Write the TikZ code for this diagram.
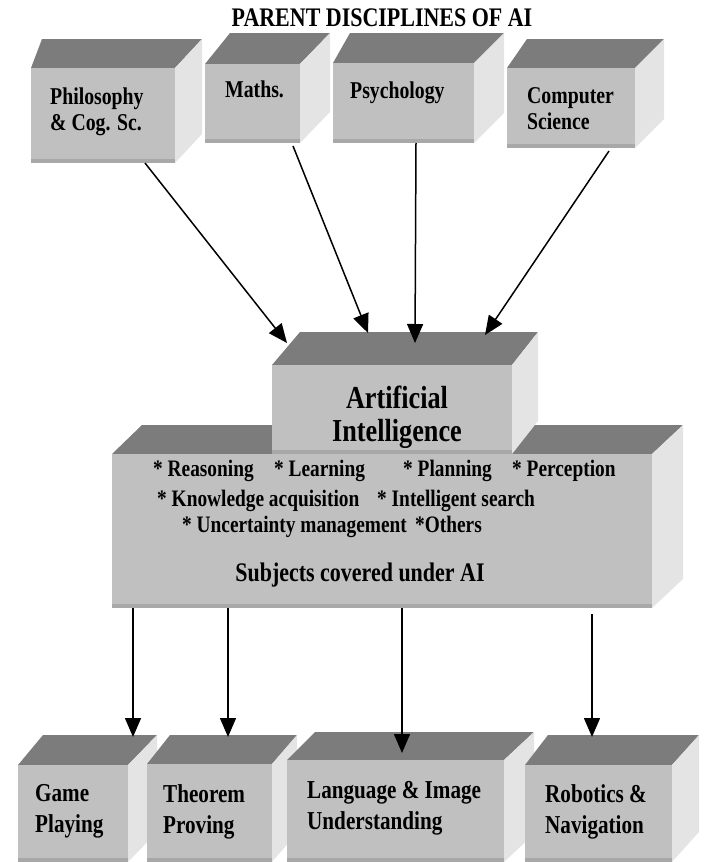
\documentclass[tikz,border=0pt]{standalone}
\usepackage{fontspec}
\setmainfont{Liberation Serif}[FakeStretch=0.82]
\usetikzlibrary{arrows.meta}

\definecolor{facefront}{RGB}{192,192,192}
\definecolor{facetop}{RGB}{124,124,124}
\definecolor{faceside}{RGB}{228,228,228}
\definecolor{faceedge}{RGB}{168,168,168}

\tikzset{
  front/.style={fill=facefront, draw=none, inner sep=0pt, outer sep=0pt},
  toplbl/.style={font=\bfseries\fontsize{24.1}{26}\selectfont, align=left, anchor=north west, inner sep=0pt},
  botlbl/.style={font=\bfseries\fontsize{25.8}{31}\selectfont, align=left, anchor=north west, inner sep=0pt},
  listlbl/.style={font=\bfseries\fontsize{23.6}{26}\selectfont, anchor=base west, inner sep=0pt},
  arr/.style={line width=1.5pt, -{Triangle[length=19pt,width=16pt]}}
}

% name, left, top, right, bottom, back left, back right, back top
\newcommand{\block}[8]{%
  \fill[facetop] (#2,#3) -- (#6,#8) -- (#7,#8) -- (#4,#3) -- cycle;
  \fill[faceside] (#4,#3) -- (#7,#8) -- (#7,{#5+#8-#3}) -- (#4,#5) -- cycle;
  \node[front, anchor=north west, minimum width={(#4-#2)*1pt}, minimum height={(#5-#3)*1pt}] (#1) at (#2,#3) {};
  \fill[faceedge] (#2,#5-4) rectangle (#4,#5);
}

\begin{document}
\begin{tikzpicture}[x=1pt,y=-1pt]
    \useasboundingbox (0,0) rectangle (704,862);

    \node[font=\bfseries\fontsize{26.8}{30}\selectfont] (title) at (382,18) {PARENT DISCIPLINES OF AI};

    \block{phil}{31}{68}{175}{163}{42}{202}{39}
    \block{maths}{205}{64}{300}{143}{230}{330}{33}
    \block{psych}{333}{63}{474}{143}{350}{504}{33}
    \block{cs}{507}{68}{635}{148}{527}{664}{39}

    \node[toplbl] (philT) at (50,88) {Philosophy\\\& Cog. Sc.};
    \node[toplbl] (mathsT) at (225,81) {Maths.};
    \node[toplbl] (psychT) at (350,82) {Psychology};
    \node[toplbl] (csT) at (527,87) {Computer\\Science};

    \block{subj}{112}{454}{652}{608}{142}{683}{425}
    \block{ai}{272}{365}{512}{454}{300}{538}{332}

    \node[font=\bfseries\fontsize{32}{33}\selectfont, align=center, anchor=north, inner sep=0pt] (aiT) at (397,386) {Artificial\\Intelligence};

    \node[listlbl] (row1) at (153,476) {\makebox[121pt][l]{* Reasoning}\makebox[129pt][l]{* Learning}\makebox[109pt][l]{* Planning}* Perception};
    \node[listlbl] (row2) at (157,506) {\makebox[220pt][l]{* Knowledge acquisition}* Intelligent search};
    \node[listlbl] (row3) at (182,532) {\makebox[233pt][l]{* Uncertainty management}*Others};
    \node[font=\bfseries\fontsize{26.8}{30}\selectfont, anchor=base, inner sep=0pt] (subjT) at (360,581) {Subjects covered under AI};

    \block{game}{18}{765}{128}{862}{43}{157}{735}
    \block{thm}{147}{764}{272}{862}{170}{297}{735}
    \block{lang}{287}{760}{504}{862}{315}{534}{732}
    \block{robo}{525}{765}{672}{862}{548}{699}{735}

    \node[botlbl] (gameT) at (35,784) {Game\\Playing};
    \node[botlbl] (thmT) at (163,784) {Theorem\\Proving};
    \node[botlbl] (langT) at (307,781) {Language \& Image\\Understanding};
    \node[botlbl] (roboT) at (545,784) {Robotics \&\\Navigation};

    \draw[arr] ([xshift=42pt]phil.south) -- ([xshift=-105pt,yshift=22pt]ai.north);
    \draw[arr] ([xshift=40.5pt,yshift=-3pt]maths.south) -- ([xshift=-24pt,yshift=32pt]ai.north);
    \draw[arr] ([xshift=12.5pt]psych.south) -- ([xshift=23pt,yshift=22pt]ai.north);
    \draw[arr] ([xshift=38pt,yshift=-3pt]cs.south) -- ([xshift=93pt,yshift=30pt]ai.north);

    \draw[arr] ([xshift=-249pt]subj.south) -- ([xshift=60pt,yshift=28pt]game.north);
    \draw[arr] ([xshift=-154pt]subj.south) -- ([xshift=18.5pt,yshift=27pt]thm.north);
    \draw[arr] ([xshift=20pt]subj.south) -- ([xshift=6.5pt,yshift=7pt]lang.north);
    \draw[arr] ([xshift=210pt,yshift=-6pt]subj.south) -- ([xshift=-6.5pt,yshift=28pt]robo.north);

\end{tikzpicture}
\end{document}
